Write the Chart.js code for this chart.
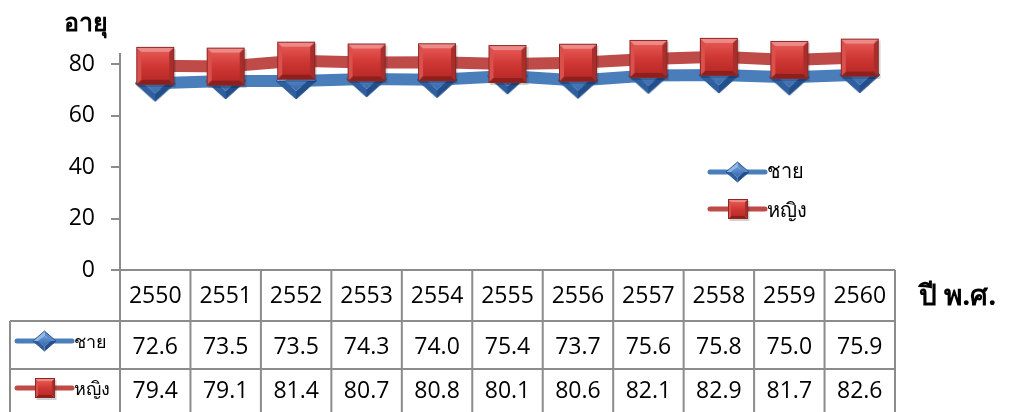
<!DOCTYPE html>
<html>
<head>
<meta charset="utf-8">
<script src="https://cdn.jsdelivr.net/npm/chart.js@4.4.1/dist/chart.umd.min.js"></script>
<style>
html, body { margin: 0; padding: 0; background: #fff; }
</style>
</head>
<body>
<canvas id="myCanvas" width="1013" height="412"></canvas>
<script>
var years = ['2550', '2551', '2552', '2553', '2554', '2555', '2556', '2557', '2558', '2559', '2560'];
var male = [72.6, 73.5, 73.5, 74.3, 74.0, 75.4, 73.7, 75.6, 75.8, 75.0, 75.9];
var female = [79.4, 79.1, 81.4, 80.7, 80.8, 80.1, 80.6, 82.1, 82.9, 81.7, 82.6];
var seriesNames = ['ชาย', 'หญิง'];
var yTicks = [0, 20, 40, 60, 80];
var yTitle = 'อายุ';
var xTitle = 'ปี พ.ศ.';

var FONT = "'Open Sans', 'Noto Sans', 'DejaVu Sans', sans-serif";
var BLUE = '#4a7ebb';
var RED = '#be4b48';
var GRID = '#8c8c8c';

function facet(g, pts, color) {
    g.beginPath();
    g.moveTo(pts[0][0], pts[0][1]);
    for (var i = 1; i < pts.length; i++) g.lineTo(pts[i][0], pts[i][1]);
    g.closePath();
    g.fillStyle = color;
    g.fill();
}

// red bevelled square marker
function makeSquare(s) {
    var c = document.createElement('canvas');
    c.width = s + 4; c.height = s + 4;
    var g = c.getContext('2d');
    var o = 2, b = Math.max(2, Math.round(s * 0.13));
    var L = o, T = o, R = o + s, B = o + s;
    g.fillStyle = 'rgba(0,0,0,0.18)';
    g.fillRect(L + 1.5, T + 2, s, s);
    facet(g, [[L, T], [R, T], [R - b, T + b], [L + b, T + b]], '#ec8a87');
    facet(g, [[L, T], [L + b, T + b], [L + b, B - b], [L, B]], '#d9504d');
    facet(g, [[R, T], [R, B], [R - b, B - b], [R - b, T + b]], '#a92e2b');
    facet(g, [[L, B], [L + b, B - b], [R - b, B - b], [R, B]], '#8e1f1d');
    var gr = g.createLinearGradient(0, T + b, 0, B - b);
    gr.addColorStop(0, '#e55652');
    gr.addColorStop(0.5, '#d03834');
    gr.addColorStop(1, '#bb2b28');
    g.fillStyle = gr;
    g.fillRect(L + b, T + b, s - 2 * b, s - 2 * b);
    g.strokeStyle = '#8f2624';
    g.lineWidth = 1;
    g.strokeRect(L + 0.5, T + 0.5, s - 1, s - 1);
    return c;
}

// blue bevelled diamond marker
function makeDiamond(w, h) {
    var c = document.createElement('canvas');
    c.width = w + 4; c.height = h + 4;
    var g = c.getContext('2d');
    var cx = c.width / 2, cy = c.height / 2, hw = w / 2, hh = h / 2, k = 0.55;
    var top = [cx, cy - hh], right = [cx + hw, cy], bot = [cx, cy + hh], left = [cx - hw, cy];
    var itop = [cx, cy - hh * k], iright = [cx + hw * k, cy], ibot = [cx, cy + hh * k], ileft = [cx - hw * k, cy];
    facet(g, [top, itop, ileft, left], '#93b7e6');
    facet(g, [top, right, iright, itop], '#5b8bcb');
    facet(g, [right, bot, ibot, iright], '#224e8c');
    facet(g, [bot, left, ileft, ibot], '#2f5f9f');
    var gr = g.createLinearGradient(0, cy - hh * k, 0, cy + hh * k);
    gr.addColorStop(0, '#6a9ad8');
    gr.addColorStop(1, '#3567aa');
    facet(g, [itop, iright, ibot, ileft], gr);
    g.beginPath();
    g.moveTo(top[0], top[1]); g.lineTo(right[0], right[1]); g.lineTo(bot[0], bot[1]); g.lineTo(left[0], left[1]);
    g.closePath();
    g.strokeStyle = '#2b568f';
    g.lineWidth = 1;
    g.stroke();
    return c;
}

var bigSquare = makeSquare(38);
var bigDiamond = makeDiamond(40, 36);
var smallSquare = makeSquare(20);
var smallDiamond = makeDiamond(23, 20);

function drawKey(ctx, x0, x1, y, color, img) {
    ctx.save();
    ctx.strokeStyle = color;
    ctx.lineWidth = 5;
    ctx.lineCap = 'round';
    ctx.beginPath();
    ctx.moveTo(x0, y);
    ctx.lineTo(x1, y);
    ctx.stroke();
    ctx.drawImage(img, Math.round((x0 + x1) / 2 - img.width / 2), Math.round(y - img.height / 2));
    ctx.restore();
}

var tablePlugin = {
    id: 'dataTable',
    afterDraw: function (chart) {
        var ctx = chart.ctx;
        var area = chart.chartArea;
        var x = chart.scales.x;
        var half = (x.getPixelForValue(1) - x.getPixelForValue(0)) / 2;
        var left = area.left, right = x.getPixelForValue(years.length - 1) + half;
        var r0 = area.bottom, r1 = r0 + 51, r2 = r1 + 48, r3 = 420;
        var boxLeft = 10;

        ctx.save();
        ctx.strokeStyle = GRID;
        ctx.lineWidth = 2;
        ctx.beginPath();
        ctx.moveTo(left, r0); ctx.lineTo(right, r0);
        ctx.moveTo(boxLeft, r1); ctx.lineTo(right, r1);
        ctx.moveTo(boxLeft, r2); ctx.lineTo(right, r2);
        ctx.moveTo(boxLeft, r1); ctx.lineTo(boxLeft, r3);
        ctx.moveTo(left, r0); ctx.lineTo(left, r3);
        for (var i = 0; i < years.length; i++) {
            var bx = x.getPixelForValue(i) + half;
            ctx.moveTo(bx, r0); ctx.lineTo(bx, r3);
        }
        ctx.stroke();

        ctx.fillStyle = '#000';
        ctx.font = '23px ' + FONT;
        ctx.textAlign = 'center';
        ctx.textBaseline = 'middle';
        for (var j = 0; j < years.length; j++) {
            var cx = x.getPixelForValue(j);
            ctx.fillText(years[j], cx, r0 + 26);
            ctx.fillText(male[j].toFixed(1), cx, r1 + 26);
            ctx.fillText(female[j].toFixed(1), cx, r2 + 22);
        }

        // row keys
        drawKey(ctx, 17, 72, r1 + 20, BLUE, smallDiamond);
        drawKey(ctx, 17, 72, r2 + 19, RED, smallSquare);
        ctx.font = '18px ' + FONT;
        ctx.textAlign = 'left';
        ctx.fillText(seriesNames[0], 74, r1 + 22);
        ctx.fillText(seriesNames[1], 74, r2 + 21);

        // legend inside plot
        drawKey(ctx, 710, 765, 172, BLUE, smallDiamond);
        drawKey(ctx, 710, 765, 209, RED, smallSquare);
        ctx.font = '20px ' + FONT;
        ctx.fillText(seriesNames[0], 767, 172);
        ctx.fillText(seriesNames[1], 767, 211);

        // titles
        ctx.font = 'bold 25px ' + FONT;
        ctx.fillText(yTitle, 64, 24);
        ctx.font = 'bold 28px ' + FONT;
        ctx.fillText(xTitle, 919, 297);
        ctx.restore();
    }
};

var ctx = document.getElementById('myCanvas').getContext('2d');
var myChart = new Chart(ctx, {
    type: 'line',
    data: {
        labels: years,
        datasets: [{
            label: seriesNames[0],
            data: male,
            borderColor: BLUE,
            borderWidth: 12,
            pointStyle: bigDiamond,
            pointRadius: 20,
            pointHoverRadius: 20,
            tension: 0,
            clip: false,
            order: 2
        }, {
            label: seriesNames[1],
            data: female,
            borderColor: RED,
            borderWidth: 12,
            pointStyle: bigSquare,
            pointRadius: 20,
            pointHoverRadius: 20,
            tension: 0,
            clip: false,
            order: 1
        }]
    },
    options: {
        responsive: false,
        animation: false,
        layout: { padding: { top: 54, right: 118, bottom: 142, left: 0 } },
        plugins: { legend: { display: false }, tooltip: { enabled: false } },
        scales: {
            x: { display: false, offset: true },
            y: {
                min: 0,
                max: 84,
                afterBuildTicks: function (scale) {
                    scale.ticks = yTicks.map(function (v) { return { value: v }; });
                },
                afterFit: function (scale) { scale.width = 120; },
                ticks: { color: '#000', font: { family: FONT, size: 23 }, padding: 16 },
                grid: { drawOnChartArea: false, drawTicks: true, tickLength: 9, color: GRID, lineWidth: 2 },
                border: { color: GRID, width: 2 }
            }
        }
    },
    plugins: [tablePlugin]
});
</script>
</body>
</html>
